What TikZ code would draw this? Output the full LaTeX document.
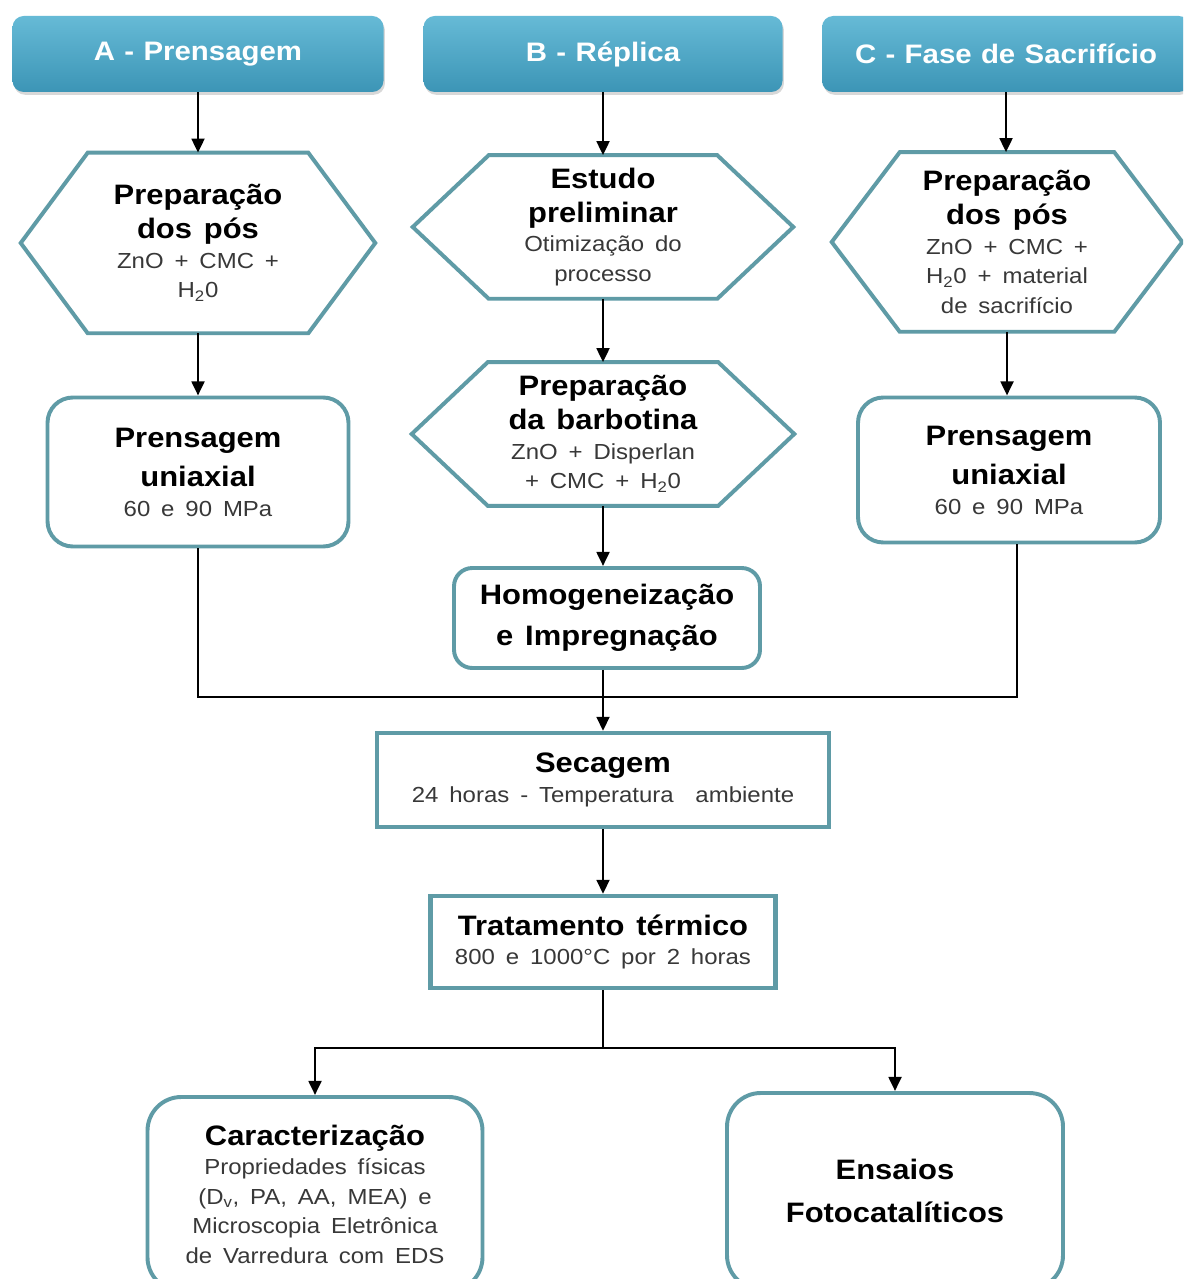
\documentclass[tikz,border=0pt]{standalone}
\usepackage{fontspec}
\setmainfont{Liberation Sans}[FakeStretch=1.1]
\usetikzlibrary{arrows.meta,shadows}
\definecolor{edge}{HTML}{5F9BA6}
\definecolor{headtop}{HTML}{66BAD6}
\definecolor{headbot}{HTML}{3C95B6}
\definecolor{smallgray}{HTML}{383838}
\newcommand{\headt}{\fontsize{19}{22}\selectfont\bfseries\spaceskip=.35em\relax}
\newcommand{\bigt}{\fontsize{20}{24}\selectfont\bfseries\spaceskip=.42em\relax}
\newcommand{\smallt}{\fontsize{15.5}{21}\selectfont\mdseries\spaceskip=.5em\relax\color{smallgray}}
\tikzset{
    dims/.style 2 args={minimum width=#1*0.025cm, minimum height=#2*0.025cm,
        text width=(#1-40)*0.025cm, inner sep=0pt, align=center},
    head/.style={rounded corners=8pt, top color=headtop, bottom color=headbot,
        text=white,
        drop shadow={opacity=.3, shadow xshift=1pt, shadow yshift=-2pt}},
    hexline/.style={draw=edge, line width=2.8pt, line join=miter},
    rbox/.style={draw=edge, line width=2.8pt, rounded corners=#1, fill=white},
    sbox/.style={draw=edge, line width=3pt, fill=white},
    line/.style={line width=2pt},
    arr/.style={line width=2pt, -{Triangle[length=10pt,width=9pt]}}
}
\begin{document}
\begin{tikzpicture}[x=0.025cm, y=-0.025cm]
    \clip (0,0) rectangle (1183,1279);
    \fill[white] (0,0) rectangle (1183,1279);

    \node[head, dims={371}{76}] (hdA) at (198,54) {\headt A - Prensagem\par};
    \node[head, dims={359}{76}] (hdB) at (603,54) {\headt B - Réplica\par};
    \node[head, dims={368}{76}] (hdC) at (1006,54) {\headt C - Fase de Sacrifício\par};

    \node[dims={354}{180}] (hexA) at (198,243)
        {\bigt Preparação\\dos pós\par\smallt ZnO + CMC +\\H\textsubscript{2}0\par};
    \node[dims={380}{143}] (hexB) at (603,227)
        {\bigt Estudo\\preliminar\par\smallt Otimização do\\processo\par};
    \node[dims={350}{179}] (hexC) at (1007,242)
        {\bigt Preparação\\dos pós\par\smallt ZnO + CMC +\\H\textsubscript{2}0 + material\\de sacrifício\par};
    \node[dims={382}{143}] (hexD) at (603,434)
        {\bigt Preparação\\da barbotina\par\smallt ZnO + Disperlan\\+ CMC + H\textsubscript{2}0\par};

    \node[rbox=18pt, dims={301}{149}] (boxA) at (198,472)
        {\bigt Prensagem\\[4pt]uniaxial\par\smallt 60 e 90 MPa\par};
    \node[rbox=18pt, dims={302}{145}] (boxC) at (1009,470)
        {\bigt Prensagem\\[4pt]uniaxial\par\smallt 60 e 90 MPa\par};
    \node[rbox=13pt, dims={306}{100}] (homog) at (607,618)
        {\bigt Homogeneização\\[5pt]e Impregnação\par};

    \node[sbox, dims={452}{94}] (sec) at (603,780)
        {\bigt Secagem\par\smallt 24 horas - Temperatura~ ambiente\par};
    \node[sbox, dims={345}{92}] (trat) at (603,942)
        {\bigt Tratamento térmico\par\smallt 800 e 1000°C por 2 horas\par};

    \node[rbox=24pt, dims={335}{194}] (car) at (315,1194)
        {\bigt Caracterização\par\smallt Propriedades físicas\\(D\textsubscript{v}, PA, AA, MEA) e\\Microscopia Eletrônica\\de Varredura com EDS\par};
    \node[rbox=24pt, dims={336}{196}] (ens) at (895,1191)
        {\bigt Ensaios\\[7pt]Fotocatalíticos\par};

    \foreach \n/\d in {hexA/67,hexB/76,hexC/68,hexD/76}
    {
        \draw[hexline] (\n.west) -- ([xshift=\d*0.025cm]\n.north west)
            -- ([xshift=-\d*0.025cm]\n.north east) -- (\n.east)
            -- ([xshift=-\d*0.025cm]\n.south east)
            -- ([xshift=\d*0.025cm]\n.south west) -- cycle;
    }

    \foreach \a/\b in {hdA/hexA,hexA/boxA,hdB/hexB,hexB/hexD,hexD/homog,hdC/hexC,hexC/boxC,sec/trat}
    {
        \draw[arr] (\a.south) -- (\a.south |- \b.north);
    }

    \coordinate (merge) at (603,697);
    \coordinate (split) at (603,1048);
    \draw[line] (boxA.south) |- (merge) -| ([xshift=0.2cm]boxC.south);
    \draw[arr] (homog.south -| merge) -- (sec.north -| merge);
    \draw[line] (trat.south) -- (split);
    \draw[arr] (split) -| (car.north);
    \draw[arr] (split) -| (ens.north);
\end{tikzpicture}
\end{document}
